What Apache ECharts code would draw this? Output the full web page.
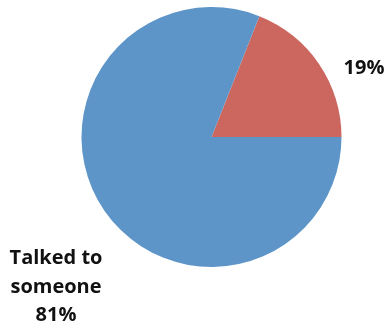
<!DOCTYPE html>
<html>
<head>
<meta charset="utf-8">
<style>
  html, body { margin: 0; padding: 0; background: #ffffff; }
  #chart { width: 387px; height: 327px; }
</style>
<script src="https://cdn.jsdelivr.net/npm/echarts@6/dist/echarts.min.js"></script>
</head>
<body>
<div id="chart"></div>
<script>
// Share of respondents by whether they talked to someone
const categories = ['Did not talk to anyone', 'Talked to someone'];
const values = [19, 81];
const colors = ['#cc675f', '#5e95c9'];

const chart = echarts.init(document.getElementById('chart'), null, { renderer: 'canvas' });

const data = categories.map((name, i) => ({
  name: name,
  value: values[i],
  itemStyle: { color: colors[i] },
  label: {
    formatter: i === 1 ? 'Talked to\nsomeone\n{d}%' : '{d}%'
  }
}));

chart.setOption({
  backgroundColor: '#ffffff',
  animation: false,
  series: [{
    type: 'pie',
    center: [211.5, 137],
    radius: 130,
    startAngle: 0,
    clockwise: false,
    data: data,
    label: {
      show: true,
      position: 'outside',
      overflow: 'none',
      fontFamily: 'Open Sans',
      fontWeight: 'bold',
      fontSize: 20,
      lineHeight: 28.5,
      color: '#111111',
      align: 'center'
    },
    labelLine: { show: false },
    labelLayout: function (params) {
      if (params.dataIndex === 0) {
        return { x: 364, y: 68, width: 80, align: 'center', verticalAlign: 'middle' };
      }
      return { x: 56, y: 287, width: 120, align: 'center', verticalAlign: 'middle' };
    },
    emphasis: { disabled: true }
  }]
});
</script>
</body>
</html>
